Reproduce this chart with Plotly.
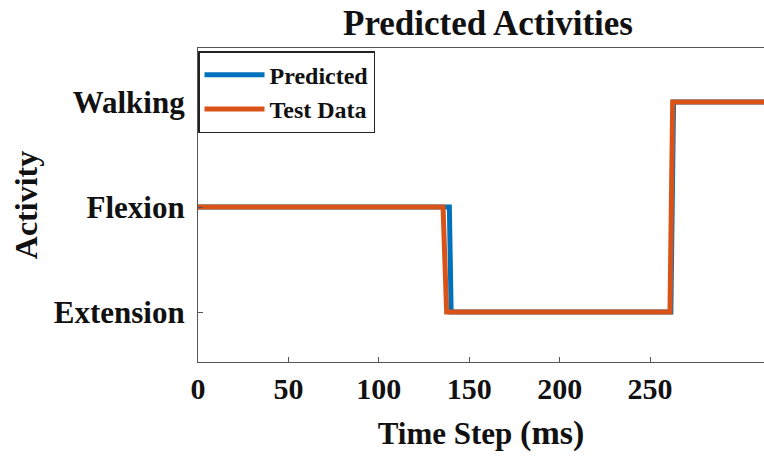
import plotly.graph_objects as go

# Data
activity_labels = ["Extension", "Flexion", "Walking"]
activity_codes = [1, 2, 3]
x_ticks = [0, 50, 100, 150, 200, 250]

pred_t = [0, 139, 140, 261.5, 263, 313]
pred_y = [2, 2, 1, 1, 3, 3]
test_t = [0, 135.5, 137.5, 261, 262.5, 313]
test_y = [2, 2, 1, 1, 3, 3]

FONT = "Liberation Serif"
AX = "#555555"
TXT = "#111111"

fig = go.Figure()
fig.add_trace(go.Scatter(x=pred_t, y=pred_y, mode="lines", name="Predicted",
                         line=dict(color="#0072BD", width=5)))
fig.add_trace(go.Scatter(x=test_t, y=test_y, mode="lines", name="Test Data",
                         line=dict(color="#D95319", width=5)))

fig.update_layout(
    width=764, height=459,
    margin=dict(l=198, r=0, t=48, b=97),
    plot_bgcolor="white", paper_bgcolor="white",
    font=dict(family=FONT, color=TXT),
    title=dict(text="Predicted Activities", x=488/764, xanchor="center",
               y=1 - 23/459, yanchor="middle",
               font=dict(family=FONT, size=35, weight="bold", color=TXT)),
    legend=dict(x=0.0, y=0.99, xanchor="left", yanchor="top",
                bgcolor="white", bordercolor="#222222", borderwidth=1.5,
                font=dict(family=FONT, size=24, weight="bold", color=TXT),
                tracegroupgap=0, itemwidth=60),
    showlegend=True,
)

fig.update_xaxes(range=[0, 313], tickvals=x_ticks, ticks="inside", ticklen=5,
                 tickcolor=AX, showline=True, linecolor=AX, linewidth=1.2,
                 mirror=True, showgrid=False, zeroline=False,
                 tickfont=dict(family=FONT, size=30, weight="bold", color=TXT),
                 title=dict(text="Time Step <span style='font-size:34px'>(ms)</span>",
                            standoff=18,
                            font=dict(family=FONT, size=31, weight="bold", color=TXT)))
fig.update_yaxes(range=[0.524, 3.514], tickvals=activity_codes, ticktext=activity_labels,
                 ticks="inside", ticklen=5, tickcolor=AX, showline=True, linecolor=AX,
                 linewidth=1.2, mirror=True, showgrid=False, zeroline=False,
                 ticklabelstandoff=6,
                 tickfont=dict(family=FONT, size=31, weight="bold", color=TXT),
                 title=dict(text="Activity", standoff=6,
                            font=dict(family=FONT, size=32, weight="bold", color=TXT)))

fig.write_html("out.html")
